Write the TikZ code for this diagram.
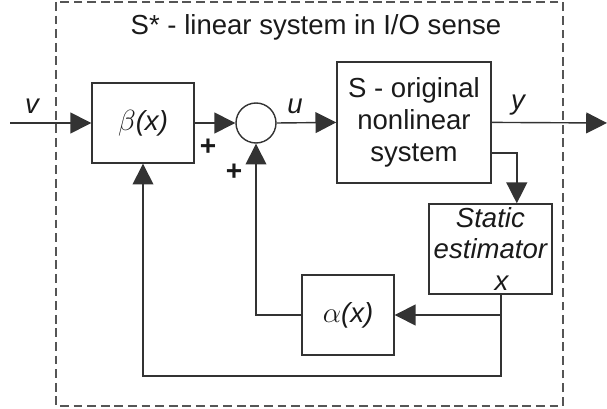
\documentclass[tikz,border=0pt]{standalone}
\usepackage{fontspec}
\setmainfont{Liberation Sans}
\usepackage{tikz}
\usepackage{xcolor}
\usetikzlibrary{arrows.meta,positioning,calc}
\definecolor{ink}      {HTML}{1A1A1A}
\definecolor{wire}     {HTML}{333333}
\definecolor{dashgray} {HTML}{555555}
\tikzset{
  blockbox/.style  ={draw=wire, line width=1pt, align=center, inner sep=2pt,
                     font=\fontsize{19.6}{22.8}\selectfont, text=ink},
  sumnode/.style   ={draw=wire, line width=1pt, circle, minimum size=1.0cm,
                     inner sep=0pt},
  sigarr/.style    ={-{Triangle[length=5.2mm,width=5.2mm]}, line width=1pt, color=wire},
  sysframe/.style  ={draw=dashgray, line width=1pt, dash pattern=on 2.2mm off 1.2mm},
  sigtext/.style   ={font=\fontsize{19.6}{22}\selectfont\itshape, text=ink},
  signtext/.style  ={font=\fontsize{20}{22}\selectfont\bfseries, text=ink},
}

\begin{document}
\begin{tikzpicture}
    \useasboundingbox (0,0) rectangle (15.175,-10.225);
    \draw[sysframe] (1.4,-0.05) rectangle (14.07,-10.15);
    \node[font=\fontsize{19.6}{22}\selectfont, text=ink] (title) at (7.9,-0.68)
      {S* - linear system in I/O sense};

    \node[blockbox, minimum width=2.55cm, minimum height=2.0cm] (beta) at (3.575,-3.075)
      {$\beta$\textit{(x)}};
    \node[sumnode] (sum) at (6.4,-3.075) {};
    \node[blockbox, minimum width=3.85cm, minimum height=3.025cm] (plant) at (10.35,-3.06)
      {S - original\\nonlinear\\system};
    \node[blockbox, minimum width=3.075cm, minimum height=2.25cm, font=\fontsize{19.6}{22.3}\selectfont\itshape]
      (est) at (12.26,-6.225) {Static\\estimator\\\hspace*{0.55cm}x};
    \node[blockbox, minimum width=2.3cm, minimum height=2.0cm] (alpha) at (8.7,-7.875)
      {$\alpha$\textit{(x)}};

    \coordinate (vin)  at (0.25,-3.075);
    \coordinate (yout) at (15.175,-3.075);
    \coordinate (fb)   at (12.525,-9.4);

    % forward path
    \draw[sigarr] (vin) -- (beta.west);
    \draw[sigarr] (beta.east) -- (sum.west);
    \draw[sigarr] (sum.east) -- (plant.west);
    \draw[sigarr] (plant.east) -- (yout);
    \draw[sigarr] ([yshift=-0.765cm]plant.east) -| ([xshift=0.66cm]est.north);

    % feedback
    \draw[sigarr] ([xshift=0.265cm]est.south) |- (alpha.east);
    \draw[sigarr] (alpha.west) -| (sum.south);
    \draw[sigarr] ([xshift=0.265cm]est.south) -- (fb) -| (beta.south);

    \node[sigtext] (vlab) at (0.8,-2.65) {v};
    \node[sigtext] (ulab) at (7.375,-2.65) {u};
    \node[sigtext] (ylab) at (12.95,-2.63) {y};
    \node[signtext] (p1) at (5.2,-3.68) {+};
    \node[signtext] (p2) at (5.85,-4.3) {+};
  \end{tikzpicture}
\end{document}
